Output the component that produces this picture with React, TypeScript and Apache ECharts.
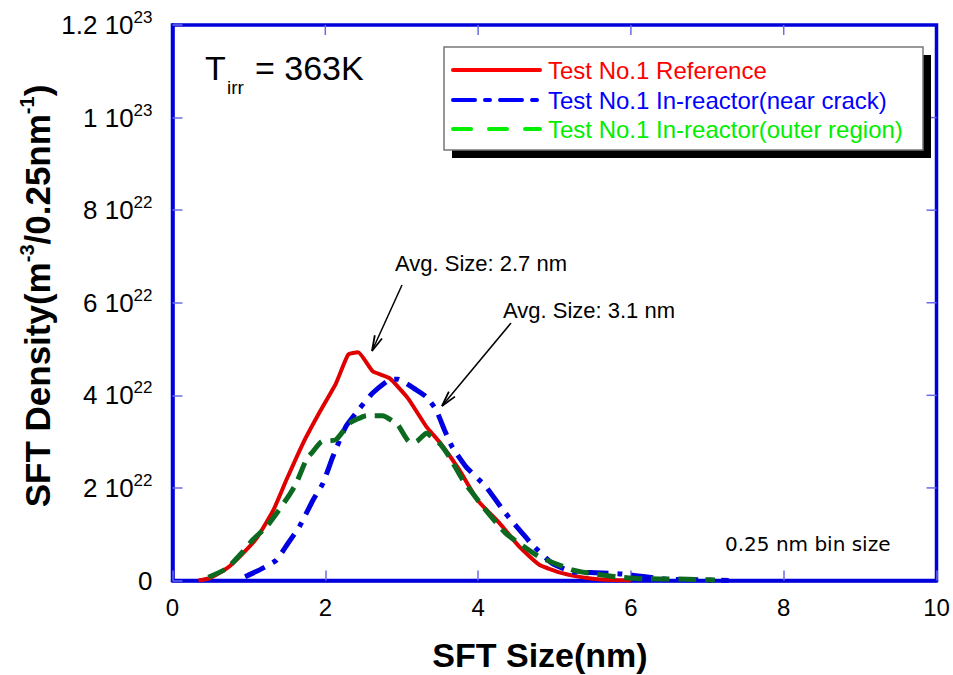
import React, { useEffect, useRef } from 'react';
import * as echarts from 'echarts';

// SFT size (nm) vs SFT density (units of 1e22 m^-3 / 0.25 nm^-1)
const referenceData: [number, number][] = [
  [0.34, 0], [0.49, 0.05], [0.71, 0.26], [0.9, 0.55], [1.1, 0.91], [1.32, 1.52], [1.49, 2.17],
  [1.71, 2.97], [1.93, 3.65], [2.14, 4.26], [2.3, 4.88], [2.43, 4.93], [2.62, 4.52], [2.84, 4.37],
  [3.08, 3.94], [3.32, 3.33], [3.5, 2.98], [3.75, 2.4], [4.0, 1.72], [4.28, 1.24], [4.54, 0.73],
  [4.8, 0.34], [5.1, 0.16], [5.45, 0.05], [5.75, 0.01], [6.0, 0],
];
const nearCrackData: [number, number][] = [
  [0.95, 0.08], [1.14, 0.23], [1.36, 0.44], [1.51, 0.8], [1.66, 1.16], [1.84, 1.74], [1.97, 2.1],
  [2.1, 2.68], [2.27, 3.33], [2.45, 3.72], [2.62, 4.05], [2.84, 4.34], [2.95, 4.35], [3.19, 4.12],
  [3.32, 3.97], [3.45, 3.69], [3.56, 3.25], [3.66, 2.89], [3.84, 2.46], [4.1, 2.03], [4.36, 1.45],
  [4.58, 1.02], [4.71, 0.77], [4.97, 0.37], [5.23, 0.19], [5.54, 0.17], [5.88, 0.14], [6.19, 0.08],
  [6.45, 0.03], [7.0, 0.01], [7.28, 0],
];
const outerRegionData: [number, number][] = [
  [0.47, 0.07], [0.71, 0.26], [0.92, 0.62], [1.05, 0.88], [1.23, 1.16], [1.38, 1.49], [1.53, 1.85],
  [1.62, 2.1], [1.75, 2.61], [1.82, 2.75], [1.95, 3.0], [2.14, 3.04], [2.32, 3.4], [2.54, 3.56],
  [2.75, 3.56], [2.95, 3.36], [3.1, 3.0], [3.19, 3.0], [3.32, 3.18], [3.49, 2.97], [3.62, 2.68],
  [3.8, 2.17], [4.06, 1.6], [4.36, 1.02], [4.54, 0.8], [4.8, 0.51], [5.23, 0.23], [5.45, 0.16],
  [5.8, 0.08], [6.1, 0.04], [6.63, 0.03], [7.1, 0.01],
];

const seriesNames = [
  'Test No.1 Reference',
  'Test No.1 In-reactor(near crack)',
  'Test No.1 In-reactor(outer region)',
];

const xTickValues = [0, 2, 4, 6, 8, 10];
const yTickValues = [0, 2, 4, 6, 8, 10, 12];
const yTickMantissa = ['0', '2', '4', '6', '8', '1', '1.2'];
const yTickExponent = ['', '22', '22', '22', '22', '23', '23'];

const FONT = '"Liberation Sans", Arial, Helvetica, sans-serif';
const BLUE = '#0000dd';
const TICK_COLOR = '#6b6bea';

function arrow(x1: number, y1: number, x2: number, y2: number) {
  const a = Math.atan2(y2 - y1, x2 - x1);
  const L = 16;
  const s = 0.25;
  return [
    { type: 'line', z: 20, shape: { x1, y1, x2, y2 }, style: { stroke: '#000', lineWidth: 1.5 } },
    {
      type: 'polyline',
      z: 20,
      shape: {
        points: [
          [x2 - L * Math.cos(a - s), y2 - L * Math.sin(a - s)],
          [x2, y2],
          [x2 - L * Math.cos(a + s), y2 - L * Math.sin(a + s)],
        ],
      },
      style: { stroke: '#000', lineWidth: 1.8, fill: 'none' },
    },
  ];
}

function txt(x: number, y: number, text: string, size: number, color: string, extra: any = {}) {
  return {
    type: 'text',
    z: 20,
    x,
    y,
    style: {
      text,
      fill: color,
      font: `${extra.weight || 'normal'} ${size}px ${extra.family || FONT}`,
      align: extra.align || 'left',
      verticalAlign: 'middle',
      textAlign: extra.align || 'left',
      textVerticalAlign: 'middle',
    },
  };
}

export default function App() {
  const ref = useRef<HTMLDivElement>(null);
  useEffect(() => {
    if (!ref.current) return;
    const chart = echarts.init(ref.current, undefined, { renderer: 'svg' });
    const legendRows = [70, 100, 129];
    const legendColors = ['#ff0000', '#0000ff', '#00ee00'];
    const legendDash: any[] = ['solid', [22, 10, 5, 10], [18, 18]];

    const graphic: any[] = [
      { type: 'rect', z: 10, shape: { x: 452, y: 55, width: 479, height: 103 }, style: { fill: '#000' } },
      { type: 'rect', z: 11, shape: { x: 444, y: 47, width: 479, height: 103 }, style: { fill: '#fff', stroke: '#777', lineWidth: 1.5 } },
    ];
    legendRows.forEach((y, i) => {
      graphic.push({
        type: 'line',
        z: 12,
        shape: { x1: 453, y1: y, x2: 540, y2: y },
        style: { stroke: legendColors[i], lineWidth: 4, lineDash: legendDash[i] === 'solid' ? null : legendDash[i], lineCap: 'round' },
      });
      graphic.push(txt(548, y, seriesNames[i], 24, legendColors[i]));
    });
    // Temperature
    graphic.push(txt(205, 68, 'T', 34, '#000'));
    graphic.push(txt(227, 87, 'irr', 19, '#000'));
    graphic.push(txt(255, 68, '= 363K', 34, '#000'));
    // Annotations
    graphic.push(txt(395, 263, 'Avg. Size: 2.7 nm', 22, '#000'));
    graphic.push(...arrow(402, 285, 372, 351));
    graphic.push(txt(503, 310, 'Avg. Size: 3.1 nm', 22, '#000'));
    graphic.push(...arrow(511, 323, 442, 406));
    graphic.push(txt(725, 544, '0.25 nm bin size', 20, '#000', { family: '"DejaVu Sans", sans-serif' }));
    // Axis titles
    graphic.push(txt(540, 655, 'SFT Size(nm)', 34, '#000', { weight: 'bold', align: 'center' }));
    graphic.push({
      type: 'text',
      z: 20,
      x: 37,
      y: 296,
      rotation: Math.PI / 2,
      style: {
        text: '{b|SFT Density(m}{s|-3}{b|/0.25nm}{s|-1}{b|)}',
        align: 'center',
        verticalAlign: 'middle',
        textAlign: 'center',
        textVerticalAlign: 'middle',
        rich: {
          b: { fontSize: 35, fontWeight: 'bold', fontFamily: FONT, fill: '#000', color: '#000', lineHeight: 36 },
          s: { fontSize: 20, fontWeight: 'bold', fontFamily: FONT, fill: '#000', color: '#000', lineHeight: 20, padding: [0, 0, 20, 0] },
        },
      },
    });

    const tickSeries = (data: number[][], dx: number, dy: number) => ({
      type: 'custom',
      silent: true,
      z: 6,
      data,
      renderItem: (_p: any, api: any) => {
        const pt = api.coord([api.value(0), api.value(1)]);
        return {
          type: 'line',
          shape: { x1: pt[0], y1: pt[1], x2: pt[0] + dx, y2: pt[1] + dy },
          style: { stroke: TICK_COLOR, lineWidth: 1.5 },
        };
      },
    });

    const option: any = {
      animation: false,
      backgroundColor: '#fff',
      grid: { left: 172.5, right: 16.5, top: 25, bottom: 94.5, show: true, borderColor: BLUE, borderWidth: 3.5, backgroundColor: 'transparent' },
      xAxis: {
        type: 'value', min: 0, max: 10, interval: 2, position: 'bottom',
        axisLine: { show: true, onZero: false, lineStyle: { color: BLUE, width: 3.5 } },
        axisTick: { show: true, inside: true, length: 10, lineStyle: { color: TICK_COLOR, width: 1.5 } },
        splitLine: { show: false },
        axisLabel: {
          margin: 15, fontSize: 24, fontFamily: FONT, color: '#000',
          formatter: (v: number) => (xTickValues.includes(v) ? String(v) : ''),
        },
      },
      yAxis: {
        type: 'value', min: 0, max: 12, interval: 2, position: 'left',
        axisLine: { show: true, onZero: false, lineStyle: { color: BLUE, width: 3.5 } },
        axisTick: { show: true, inside: true, length: 10, lineStyle: { color: TICK_COLOR, width: 1.5 } },
        splitLine: { show: false },
        axisLabel: {
          margin: 20,
          formatter: (v: number) => {
            const i = yTickValues.indexOf(v);
            if (i < 0) return '';
            return yTickExponent[i] ? `{a|${yTickMantissa[i]} 10}{s|${yTickExponent[i]}}` : `{a|${yTickMantissa[i]}}`;
          },
          rich: {
            a: { fontSize: 26, fontFamily: FONT, color: '#000', lineHeight: 26 },
            s: { fontSize: 17, fontFamily: FONT, color: '#000', lineHeight: 17, padding: [0, 0, 15, 0] },
          },
        },
      },
      series: [
        {
          name: seriesNames[0], type: 'line', data: referenceData, showSymbol: false, smooth: 0.15, z: 3,
          lineStyle: { color: '#e00000', width: 4, type: 'solid' },
        },
        {
          name: seriesNames[1], type: 'line', data: nearCrackData, showSymbol: false, smooth: 0.15, z: 4,
          lineStyle: { color: '#0000e0', width: 5, type: [22, 9, 5, 9] },
        },
        {
          name: seriesNames[2], type: 'line', data: outerRegionData, showSymbol: false, smooth: 0.15, z: 5,
          lineStyle: { color: '#0b6a1f', width: 5, type: [18, 9] },
        },
        tickSeries(xTickValues.slice(1, -1).map((v) => [v, 12]), 0, 10),
        tickSeries(yTickValues.slice(1, -1).map((v) => [10, v]), -10, 0),
      ],
      graphic,
    };
    chart.setOption(option);
    return () => chart.dispose();
  }, []);
  return <div ref={ref} style={{ position: 'fixed', left: 0, top: 0, width: 953, height: 675 }} />;
}
